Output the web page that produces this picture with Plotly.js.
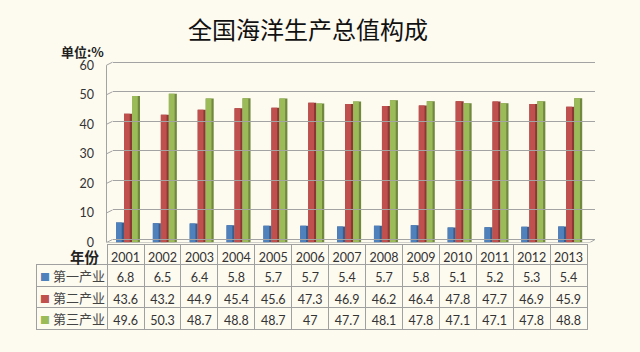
<!DOCTYPE html>
<html>
<head>
<meta charset="utf-8">
<script src="https://cdn.plot.ly/plotly-3.0.1.min.js"></script>
<style>html,body{margin:0;padding:0;background:#FDFAF0;}#chart{width:640px;height:352px;}</style>
</head>
<body>
<div id="chart"></div>
<script>
// ---- data ----
var years = ['2001','2002','2003','2004','2005','2006','2007','2008','2009','2010','2011','2012','2013'];
var seriesNames = ['第一产业','第二产业','第三产业'];
var primary   = [6.8, 6.5, 6.4, 5.8, 5.7, 5.7, 5.4, 5.7, 5.8, 5.1, 5.2, 5.3, 5.4];
var secondary = [43.6, 43.2, 44.9, 45.4, 45.6, 47.3, 46.9, 46.2, 46.4, 47.8, 47.7, 46.9, 45.9];
var tertiary  = [49.6, 50.3, 48.7, 48.8, 48.7, 47, 47.7, 48.1, 47.8, 47.1, 47.1, 47.8, 48.8];
var yTicks = [0, 10, 20, 30, 40, 50, 60];

// ---- styling ----
var W = 640, H = 352;
var bg = '#FDFAF0';
var grid = '#A3A3A3';
var front = ['#4F81BD', '#C0504D', '#9BBB59'];
var side  = ['#385D8A', '#8C3836', '#71893F'];
var pxPerUnitY = 2.955;
var yBottomPx = 242.5, yTopPx = 60;
var depthX = 6, depthY = 3;
var xLeftPx = 106.5, xRightPx = 590;
var catPx = 36.85, cat0Px = 128;
var barPx = 8;
var tableTopPx = 244.5, headerH = 20, rowH = 21.7;

var yTop = (yBottomPx - yTopPx) / pxPerUnitY;
var dy = depthY / pxPerUnitY;
var xr0 = (xLeftPx - cat0Px) / catPx, xr1 = (xRightPx - cat0Px) / catPx;
var bw = barPx / catPx;
var xs = years.map(function(_, i){ return i; });
var all = [primary, secondary, tertiary];
var offsets = [-1.5 * bw, -0.5 * bw, 0.5 * bw];

var traces = [];
// empty trace to carry back-wall gridlines
traces.push({type:'scatter', x:[], y:[], xaxis:'x2', yaxis:'y2', showlegend:false, hoverinfo:'skip'});
all.forEach(function(vals, k){
  traces.push({type:'bar', x: xs, y: vals, width: bw, offset: offsets[k],
    marker:{color: side[k]}, hoverinfo:'skip', showlegend:false});
  traces.push({type:'bar', x: xs, y: vals, width: bw * 0.72, offset: offsets[k],
    marker:{color: front[k]}, name: seriesNames[k], showlegend:false});
});

// table
var cellValues = [seriesNames.map(function(){ return ''; })].concat(years.map(function(_, i){
  return [String(primary[i]), String(secondary[i]), String(tertiary[i])];
}));
var colWidths = [71].concat(years.map(function(){ return catPx; }));
var headerLine = ['rgba(0,0,0,0)'].concat(years.map(function(){ return '#A0A0A0'; }));
traces.push({
  type:'table',
  domain:{x:[36/W, 587/W], y:[0, 1 - tableTopPx/H]},
  columnwidth: colWidths,
  header:{values: [''].concat(years), height: headerH, align:'center',
    line:{color: headerLine, width:1}, fill:{color:'rgba(0,0,0,0)'},
    font:{family:'Lato, Liberation Sans', size:12.5, color:'#333333'}},
  cells:{values: cellValues, height: rowH, align:'center',
    line:{color:'#A0A0A0', width:1}, fill:{color:'rgba(0,0,0,0)'},
    font:{family:'Lato, Liberation Sans', size:12.5, color:'#333333'}}
});

// wall/floor outline shapes
var shapes = [];
var px = function(p){ return p / W; };
yTicks.forEach(function(v){
  shapes.push({type:'line', xref:'paper', yref:'y', x0:px(xLeftPx), x1:px(xLeftPx + depthX), y0:v, y1:v + dy,
    line:{color:grid, width:1}});
});
shapes.push({type:'line', xref:'paper', yref:'y', x0:px(xLeftPx), x1:px(xLeftPx), y0:0, y1:yTicks[yTicks.length-1],
  line:{color:grid, width:1}});
shapes.push({type:'line', xref:'paper', yref:'y', x0:px(xLeftPx), x1:px(xRightPx), y0:0, y1:0,
  line:{color:grid, width:1}});
shapes.push({type:'line', xref:'paper', yref:'y', x0:px(xRightPx), x1:px(xRightPx + depthX - 1), y0:0, y1:dy,
  line:{color:grid, width:1}});

var annotations = [
  {text:'<b>单位:%</b>', xref:'paper', yref:'paper', x: 82/W, y: 1 - 52/H, xanchor:'center', yanchor:'middle',
    showarrow:false, font:{family:'Noto Sans CJK SC', size:13, color:'#222222'}},
  {text:'<b>年份</b>', xref:'paper', yref:'paper', x: 102/W, y: 1 - 256/H, xanchor:'right', yanchor:'middle',
    showarrow:false, font:{family:'Noto Sans CJK SC', size:14.5, color:'#222222'}}
];
seriesNames.forEach(function(n, k){
  var yc = tableTopPx + headerH + rowH * (k + 0.5);
  annotations.push({text:'<span style="color:' + front[k] + ';font-size:10px">■</span> ' + n,
    xref:'paper', yref:'paper', x: 38/W, y: 1 - yc/H, xanchor:'left', yanchor:'middle',
    showarrow:false, font:{family:'Noto Sans CJK SC', size:13, color:'#444444'}});
});

var layout = {
  width: W, height: H,
  margin:{l:0, r:0, t:0, b:0},
  paper_bgcolor: bg, plot_bgcolor: 'rgba(0,0,0,0)',
  barmode:'overlay',
  showlegend:false,
  title:{text:'全国海洋生产总值构成', x: 308/W, xanchor:'center', y: 1 - 31/H, yanchor:'middle',
    font:{family:'Noto Sans CJK SC', size:24, color:'#111111'}},
  xaxis:{domain:[px(xLeftPx), px(xRightPx)], range:[xr0, xr1], showgrid:false, zeroline:false,
    showticklabels:false, showline:false, ticks:'', fixedrange:true},
  yaxis:{domain:[1 - yBottomPx/H, 1 - yTopPx/H], range:[0, yTop], tickvals: yTicks,
    showgrid:false, zeroline:false, showline:false, ticks:'outside', ticklen:9, tickcolor:'rgba(0,0,0,0)',
    tickfont:{family:'Lato, Liberation Sans', size:12.5, color:'#333333'}, fixedrange:true},
  xaxis2:{domain:[px(xLeftPx + depthX), px(xRightPx + depthX - 1)], anchor:'y2', range:[0,1],
    showgrid:false, zeroline:false, showticklabels:false, showline:false, ticks:''},
  yaxis2:{domain:[1 - yBottomPx/H, 1 - yTopPx/H], anchor:'x2', range:[-dy, yTop - dy], tickvals: yTicks,
    showgrid:true, gridcolor:grid, gridwidth:1, zeroline:false, showticklabels:false, showline:false, ticks:''},
  shapes: shapes,
  annotations: annotations
};

Plotly.newPlot('chart', traces, layout, {displayModeBar:false, staticPlot:true});
</script>
</body>
</html>
